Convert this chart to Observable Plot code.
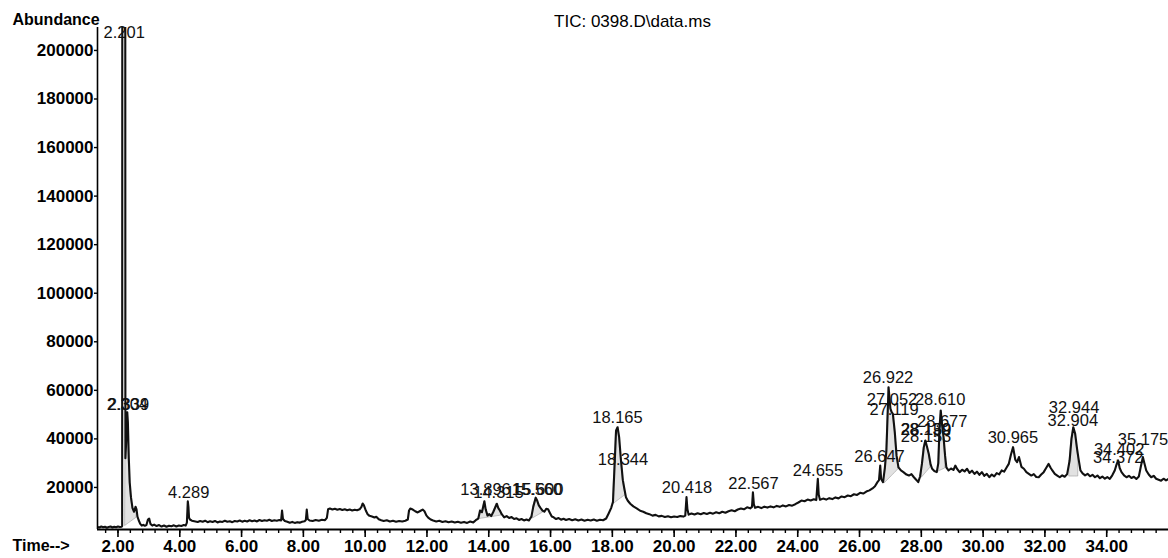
<!DOCTYPE html>
<html><head><meta charset="utf-8">
<script src="https://cdn.jsdelivr.net/npm/d3@7"></script>
<script src="https://cdn.jsdelivr.net/npm/@observablehq/plot@0.6"></script>
<style>
html,body{margin:0;padding:0;background:#fff}
svg{display:block}
</style>
</head><body><div id="chart"></div>
<script>
// retention time (min)
const times = [
1.34,1.40,1.46,1.52,1.58,1.64,1.70,1.76,1.82,1.88,1.94,2.00,2.06,2.12,2.135,
2.14,2.235,2.24,2.27,2.30,2.32,2.35,2.38,2.42,2.47,2.52,2.57,2.60,2.63,2.67,2.72,2.77,2.82,2.87,2.92,2.97,3.01,3.05,3.11,3.17,3.25,3.33,3.41,3.49,3.57,3.65,3.73,3.81,3.89,3.97,4.05,4.13,4.19,4.23,4.26,4.28,4.30,4.33,4.39,4.47,
4.58,4.66,4.74,4.82,4.90,4.98,5.06,5.14,5.22,5.30,5.38,5.46,5.54,5.62,5.70,5.78,5.86,5.94,6.02,6.10,6.18,6.26,6.34,6.42,6.50,6.58,6.66,6.74,6.82,6.90,6.98,7.06,7.14,7.22,7.28,7.31,7.34,7.40,7.48,7.56,7.64,7.72,7.80,7.88,7.96,8.04,8.08,8.11,8.14,8.20,8.30,8.40,8.50,8.60,8.70,8.76,8.80,8.86,8.94,9.02,9.10,9.18,9.26,9.34,9.42,9.50,9.58,9.66,9.74,9.82,9.88,9.92,9.96,10.02,10.08,10.14,10.22,10.30,10.36,10.44,10.52,10.60,10.70,10.80,10.90,11.00,11.10,11.20,11.30,11.38,11.42,11.46,11.54,11.62,11.70,11.78,11.86,11.92,11.98,12.04,12.12,12.20,12.30,12.40,12.50,12.60,12.70,12.80,12.90,13.00,13.10,13.20,13.30,13.40,13.50,13.58,13.66,13.72,13.78,13.86,13.90,13.96,14.02,14.08,14.15,14.26,14.31,14.36,14.42,14.50,14.58,14.66,14.74,14.82,14.90,14.98,15.06,15.14,15.22,15.30,15.38,15.44,15.52,15.57,15.62,15.68,15.74,15.80,15.86,15.92,15.98,16.04,16.10,16.18,16.26,16.34,16.42,16.50,16.60,16.70,16.80,16.90,17.00,17.10,17.20,17.30,17.40,17.50,17.60,17.70,17.80,17.88,17.96,18.02,18.07,18.12,18.17,18.22,18.28,18.34,18.38,18.44,18.50,18.58,18.68,18.80,18.90,19.00,19.10,19.20,19.30,19.40,19.50,19.60,19.70,19.80,19.90,20.00,20.10,20.20,20.30,20.36,20.40,20.43,20.47,20.56,20.66,20.76,20.86,20.96,21.06,21.16,21.26,21.36,21.46,21.56,21.66,21.76,21.86,21.96,22.06,22.16,22.26,22.36,22.46,22.52,22.55,22.58,22.62,22.72,22.82,22.92,23.02,23.12,23.22,23.32,23.42,23.52,23.62,23.72,23.82,23.92,24.02,24.12,24.22,24.32,24.42,24.52,24.60,24.65,24.68,24.72,24.82,24.92,25.02,25.12,25.22,25.32,25.42,25.52,25.62,25.72,25.82,25.92,26.02,26.12,26.22,26.32,26.42,26.50,26.58,26.63,26.67,26.70,26.76,26.82,26.87,26.94,27.00,27.04,27.08,27.14,27.20,27.26,27.34,27.42,27.52,27.60,27.68,27.76,27.84,27.90,27.96,28.02,28.08,28.13,28.18,28.24,28.30,28.35,28.42,28.50,28.55,28.59,28.63,28.67,28.72,28.77,28.81,28.88,28.96,29.04,29.10,29.16,29.24,29.32,29.40,29.48,29.56,29.64,29.72,29.80,29.88,29.96,30.04,30.12,30.20,30.28,30.36,30.44,30.52,30.60,30.68,30.76,30.83,30.90,30.97,31.04,31.10,31.16,31.24,31.32,31.40,31.48,31.56,31.64,31.72,31.80,31.88,31.96,32.04,32.12,32.18,32.24,32.32,32.40,32.48,32.56,32.64,32.72,32.80,32.86,32.92,32.98,33.04,33.08,33.15,33.22,33.30,33.38,33.46,33.54,33.62,33.70,33.78,33.86,33.94,34.02,34.10,34.18,34.26,34.32,34.37,34.42,34.48,34.56,34.64,34.72,34.80,34.88,34.96,35.04,35.10,35.17,35.22,35.28,35.36,35.44,35.52,35.60,35.68,35.76,35.84,35.92,36.00
];
// total ion current abundance
const abundance = [
3700,3500,3900,3600,3800,3400,3700,3900,3500,3800,3600,3900,3700,3800,4100,
250000,250000,32000,40000,51000,47000,32000,22000,16000,11500,10000,12000,11000,8000,6500,5000,4300,4600,4200,4500,6800,7200,5000,4300,4700,4100,4500,3900,4300,3800,4200,4000,4400,3900,4300,4100,4500,4300,5500,14300,12000,7500,6800,6300,6100,
5800,6200,5900,6300,5700,6100,5800,6200,5600,6000,5800,6300,5900,6100,5700,6200,6000,6400,5900,6300,6000,6500,6100,6400,6000,6600,6200,6500,6300,6700,6200,6500,6300,6600,6400,10500,7000,6200,5900,5500,5800,5400,5700,5500,5900,6100,6600,10900,7000,6400,6200,6600,6300,6700,6500,7500,11000,11300,10900,11200,10800,11100,10700,11000,10600,10900,10500,10800,10600,11000,12000,13400,12600,10500,9000,8300,8000,7600,7900,6900,6500,6200,6500,6000,6300,5900,6200,6000,6300,6800,10500,11300,10900,10200,9700,10300,10900,10200,8500,7600,6800,6400,6000,6300,5800,6100,5700,6000,5600,5900,5500,5800,5400,6000,5600,6500,7200,10500,9800,14300,11000,8400,9000,8200,10000,13300,11500,10500,9000,7700,8200,7400,7800,7000,7300,6600,7000,6400,6800,6400,8000,12000,15800,14500,12600,11500,10500,10000,11200,11000,9500,8000,7700,7000,7400,6700,7100,6600,7000,6500,6900,6400,6800,6300,6700,6400,6800,6300,6700,6500,7200,9300,11500,14000,28300,43400,44800,40700,31100,23000,20100,16000,14500,13300,12200,11300,10400,10000,9400,9000,8400,8700,8100,8300,7800,8100,7700,8000,7800,8200,8000,8400,16000,11000,8800,9300,8900,9400,9000,9500,9100,9600,9200,9800,9400,10000,9600,10200,10600,10200,10900,11300,11000,11800,11400,12000,18000,13000,11600,12000,11500,12100,11700,12200,11800,12400,12000,12600,12200,12800,12500,13100,13800,14600,14300,15000,14600,15100,14800,23600,17000,14900,15400,15000,15600,15200,15900,15500,16300,16000,16700,16400,17200,16900,17800,17500,18300,18800,19600,20500,22200,23000,29000,23500,22200,28000,35200,61300,52500,51000,50300,43000,33000,28300,27000,26300,25300,24900,25500,24200,23100,22200,24500,29700,36500,39300,37000,33900,29500,27700,26800,26300,30000,44800,51700,46000,40700,33000,28300,27000,27800,27200,29000,27600,26300,27300,26600,27700,26000,26900,25600,26500,25200,26300,24800,25600,24200,25300,24600,25900,25400,27000,26500,28200,29700,33500,36600,31500,30400,32500,28500,27700,26300,25600,24900,25500,24300,24200,25300,26300,28000,29700,28200,27000,25600,24900,24200,25000,24400,25500,31100,40000,44800,42100,36000,32500,27000,25800,25000,25600,24600,25200,24200,24900,23800,24500,23600,24300,23500,25000,27000,29500,31100,28000,26300,25000,24200,24800,23900,24400,23500,24500,28300,32500,30000,27000,25300,24200,24800,23600,23200,22800,23600,22900,23500
];
// peak annotations (retention time text) and the height of their baseline
const peakNames = ["2.201","2.339","2.304","4.289","13.896","14.315","15.560","15.600","18.165","18.344","20.418","22.567","24.655","26.647","26.922","27.052","27.119","28.139","28.159","28.153","28.610","28.677","30.965","32.944","32.904","34.402","34.372","35.175"];
const peakLabelHeights = [205000,51700,51700,15400,16700,15400,16700,16700,46300,29000,17500,19200,24500,30300,62800,53800,49600,41400,41400,38500,53800,44700,38100,50500,45100,33200,29900,37300];
// integrated peak regions: start, end, baseline at start, baseline at end
const integStart = [2.24, 13.70, 15.40, 18.02, 26.80, 27.98, 28.55, 32.78];
const integEnd   = [2.62, 14.45, 15.80, 18.44, 27.30, 28.32, 28.80, 33.12];
const integBase0 = [4200, 7000, 7000, 13000, 21500, 23500, 26500, 24500];
const integBase1 = [7700, 8500, 10000, 17000, 28000, 28500, 28000, 24500];

const xTicks = [2,4,6,8,10,12,14,16,18,20,22,24,26,28,30,32,34];
const yTicks = [20000,40000,60000,80000,100000,120000,140000,160000,180000,200000];

const xDomain = [1.337, 36.0];
const yDomain = [2680, 209450];

const trace = times.map((t, i) => ({t, v: abundance[i]}));
const labels = peakNames.map((s, i) => ({t: +s, v: peakLabelHeights[i], s}));
const areas = [];
integStart.forEach((a, k) => {
  const b = integEnd[k];
  trace.filter(d => d.t >= a && d.t <= b).forEach(d => {
    const f = (d.t - a) / (b - a);
    areas.push({k, t: d.t, v: Math.min(d.v, yDomain[1]), b: integBase0[k] + f * (integBase1[k] - integBase0[k])});
  });
});
const minor = d3.range(1.6, 36, 0.4);
const font = "'Liberation Sans', Arial, Helvetica, sans-serif";

const chart = Plot.plot({
  width: 1168, height: 558,
  marginLeft: 97, marginRight: 0, marginTop: 27, marginBottom: 29,
  style: {fontFamily: font, background: "#fff", color: "#000"},
  x: {domain: xDomain, label: null},
  y: {domain: yDomain, label: null},
  marks: [
    Plot.areaY(areas, {x: "t", y1: "b", y2: "v", z: "k", fill: "#cfcfcf", fillOpacity: 0.6, stroke: "#9a9a9a", strokeWidth: 0.6, curve: "linear"}),
    Plot.line(trace, {x: "t", y: "v", stroke: "#111", strokeWidth: 2.1, clip: true, strokeLinejoin: "round"}),
    Plot.text(labels, {x: "t", y: "v", text: "s", dy: -6, lineAnchor: "middle", textAnchor: "middle", fontSize: 16.5, fill: "#111"}),
    Plot.ruleY([yDomain[0]], {stroke: "#000", strokeWidth: 2}),
    Plot.ruleX([xDomain[0]], {stroke: "#000", strokeWidth: 1.6}),
    Plot.axisX({ticks: minor, tickSize: 4, tickFormat: () => "", strokeWidth: 1.4}),
    Plot.axisX({ticks: xTicks, tickSize: 8, tickPadding: 2, tickFormat: d => d.toFixed(2), fontSize: 17, fontWeight: "bold", strokeWidth: 1.6}),
    Plot.axisY({ticks: yTicks, tickSize: 3, tickPadding: 1, tickFormat: d => String(d), fontSize: 17, fontWeight: "bold", strokeWidth: 1.4}),
    Plot.text(["Abundance"], {text: d => d, frameAnchor: "top-left", dx: -85, dy: -8, textAnchor: "start", lineAnchor: "middle", fontSize: 16, fontWeight: "bold"}),
    Plot.text(["TIC: 0398.D\\data.ms"], {text: d => d, frameAnchor: "top-left", dx: 535, dy: -6, textAnchor: "middle", lineAnchor: "middle", fontSize: 17}),
    Plot.text(["Time-->"], {text: d => d, frameAnchor: "bottom-left", dx: -85, dy: 16, textAnchor: "start", lineAnchor: "middle", fontSize: 16, fontWeight: "bold"})
  ]
});
document.getElementById("chart").appendChild(chart);
</script>
</body></html>
